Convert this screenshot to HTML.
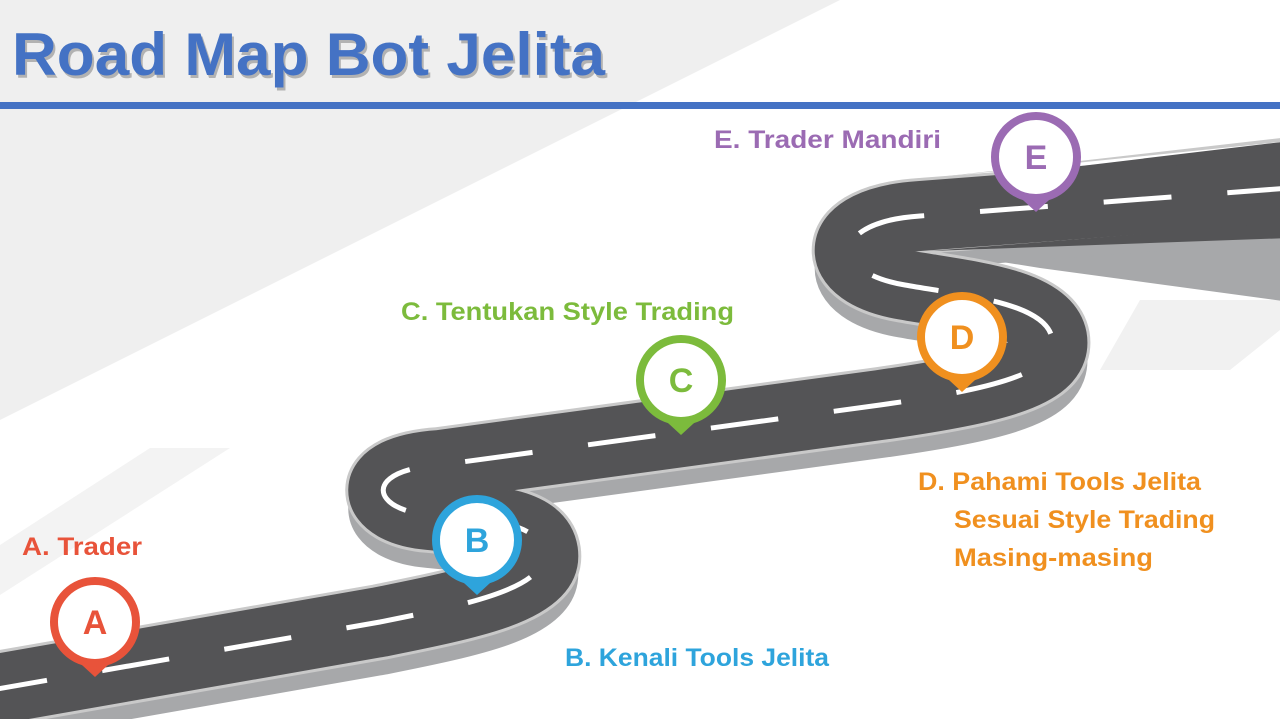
<!DOCTYPE html>
<html><head><meta charset="utf-8"><style>
body{margin:0;width:1280px;height:719px;overflow:hidden;background:#fff;font-family:"Liberation Sans",sans-serif}
svg{position:absolute;left:0;top:0}
</style></head><body>
<svg width="1280" height="719" viewBox="0 0 1280 719">
<polygon points="0,0 840,0 0,420" fill="#efefef"/>
<polygon points="150,448 230,448 0,595 0,545" fill="#f3f3f3"/>
<polygon points="1140,300 1280,300 1280,330 1230,370 1100,370" fill="#f1f1f1"/>
<text x="14" y="78" font-size="60" font-weight="bold" fill="#000" opacity="0.25" font-family="Liberation Sans" textLength="593" lengthAdjust="spacingAndGlyphs">Road Map Bot Jelita</text>
<text x="12" y="75" font-size="60" font-weight="bold" fill="#4472c4" font-family="Liberation Sans" textLength="593" lengthAdjust="spacingAndGlyphs">Road Map Bot Jelita</text>
<rect x="0" y="102" width="1280" height="7" fill="#4472c4"/>
<defs>
<path id="p1" d="M -20 692 L 380 622 C 470 604, 548 588, 543 552 C 538 520, 480 520, 430 515 C 370 510, 362 470, 440 465 L 880 405 C 1000 388, 1058 372, 1052 338 C 1045 302, 960 295, 905 285 C 828 272, 830 222, 920 216 L 1290 188"/>
</defs>
<polygon points="940,252 1290,236 1290,302 1040,268" fill="#a7a8aa"/>
<g fill="none">
<use href="#p1" transform="translate(0,18)" stroke="#a7a8aa" stroke-width="70"/>
<use href="#p1" stroke="#c9c9c9" stroke-width="76"/>
<use href="#p1" stroke="#545456" stroke-width="70"/>
</g>
<polygon points="930,251 1290,222 1290,238" fill="#545456"/>
<polygon points="930,184 1290,157 1290,141" fill="#545456"/>
<polygon points="930,178 1290,141 1290,137" fill="#c9c9c9"/>
<use href="#p1" fill="none" stroke="#fff" stroke-width="5" stroke-dasharray="68 56"/>
<g font-family="Liberation Sans" font-weight="900" font-size="34" text-anchor="middle">
<g transform="translate(95,622)"><path d="M-38,20 L0,55 L38,20 Z" fill="#e8533a"/><circle r="41" fill="#fff" stroke="#e8533a" stroke-width="8"/><text y="12" fill="#e8533a">A</text></g>
<g transform="translate(477,540)"><path d="M-38,20 L0,55 L38,20 Z" fill="#2ea4dc"/><circle r="41" fill="#fff" stroke="#2ea4dc" stroke-width="8"/><text y="12" fill="#2ea4dc">B</text></g>
<g transform="translate(681,380)"><path d="M-38,20 L0,55 L38,20 Z" fill="#7cbb3c"/><circle r="41" fill="#fff" stroke="#7cbb3c" stroke-width="8"/><text y="12" fill="#7cbb3c">C</text></g>
<g transform="translate(962,337)"><path d="M-38,20 L0,55 L38,20 Z" fill="#f0901f"/><circle r="41" fill="#fff" stroke="#f0901f" stroke-width="8"/><text y="12" fill="#f0901f">D</text></g>
<g transform="translate(1036,157)"><path d="M-38,20 L0,55 L38,20 Z" fill="#9b6bb3"/><circle r="41" fill="#fff" stroke="#9b6bb3" stroke-width="8"/><text y="12" fill="#9b6bb3">E</text></g>
</g>
<g font-family="Liberation Sans" font-weight="bold" font-size="25">
<text x="22" y="555" fill="#e8533a" textLength="120" lengthAdjust="spacingAndGlyphs">A. Trader</text>
<text x="565" y="666" fill="#2ea4dc" textLength="264" lengthAdjust="spacingAndGlyphs">B. Kenali Tools Jelita</text>
<text x="401" y="320" fill="#7cbb3c" textLength="333" lengthAdjust="spacingAndGlyphs">C. Tentukan Style Trading</text>
<text x="918" y="490" fill="#f0901f" textLength="283" lengthAdjust="spacingAndGlyphs">D. Pahami Tools Jelita</text>
<text x="954" y="528" fill="#f0901f" textLength="261" lengthAdjust="spacingAndGlyphs">Sesuai Style Trading</text>
<text x="954" y="566" fill="#f0901f" textLength="199" lengthAdjust="spacingAndGlyphs">Masing-masing</text>
<text x="714" y="148" fill="#9b6bb3" textLength="227" lengthAdjust="spacingAndGlyphs">E. Trader Mandiri</text>
</g>
</svg>
</body></html>
